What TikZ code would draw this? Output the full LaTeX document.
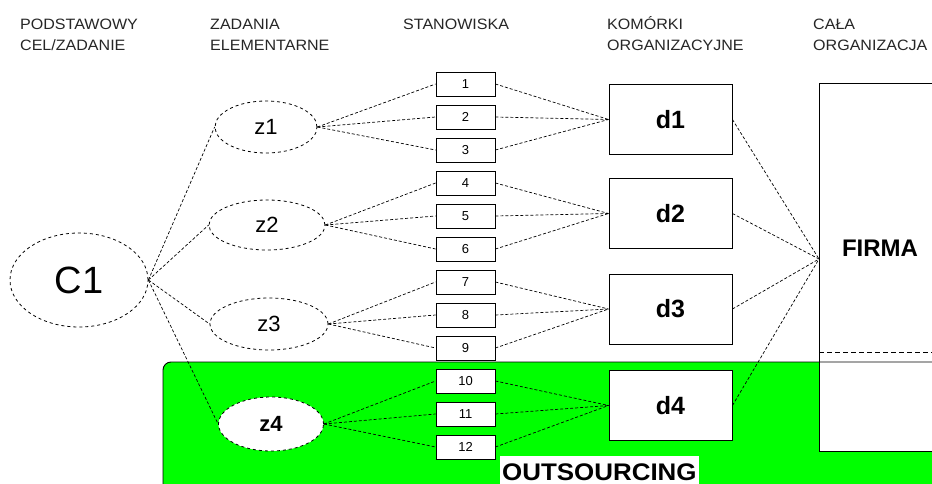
\documentclass[tikz,border=0pt]{standalone}
\usepackage{fontspec}
\setmainfont{Liberation Sans}
\newfontfamily\hdrfont[FakeStretch=1.07]{Liberation Sans}
\newfontfamily\outfont[FakeStretch=1.08]{Liberation Sans}
\usetikzlibrary{shapes.geometric}
\definecolor{outgreen}{RGB}{0,255,0}
\begin{document}
\begin{tikzpicture}[x=1pt,y=-1pt,
  hdr/.style={font=\hdrfont\fontsize{15}{18}\selectfont, anchor=base west, inner sep=0, text=black!85},
  task/.style={ellipse, draw, dashed, line width=0.8pt, inner sep=0, font=\fontsize{22}{22}\selectfont},
  post/.style={rectangle, draw, fill=white, line width=0.8pt, minimum width=59pt, minimum height=24pt, inner sep=0, font=\fontsize{13}{13}\selectfont},
  dept/.style={rectangle, draw, fill=white, line width=0.9pt, minimum width=123pt, minimum height=70pt, inner sep=0, font=\bfseries\fontsize{25}{25}\selectfont},
  conn/.style={line width=0.7pt, dash pattern=on 3pt off 2pt},
]
\useasboundingbox (0,0) rectangle (932,484);
\clip (0,0) rectangle (932,484);
\fill[white] (0,0) rectangle (932,484);
% outsourcing area
\fill[outgreen, rounded corners=8pt] (163,362) rectangle (960,510);
% whole organisation
\node[draw, fill=white, line width=0.9pt, minimum width=160pt, minimum height=368pt, anchor=north west, inner sep=0] (firma) at (819,83) {};
\node[font=\bfseries\fontsize{24}{24}\selectfont] (firmatxt) at (880,248) {FIRMA};
\draw[line width=0.9pt, rounded corners=8pt] (163,510) -- (163,362) -- (960,362);
\draw[line width=0.9pt, dash pattern=on 5pt off 3pt] (819,352) -- (960,352);
\coordinate (fin) at (819,259);
% headers
\node[hdr] (h1a) at (20,30) {PODSTAWOWY};
\node[hdr] (h1b) at (20,51) {CEL/ZADANIE};
\node[hdr] (h2a) at (210,30) {ZADANIA};
\node[hdr] (h2b) at (210,51) {ELEMENTARNE};
\node[hdr] (h3a) at (403,30) {STANOWISKA};
\node[hdr] (h4a) at (607,30) {KOMÓRKI};
\node[hdr] (h4b) at (607,51) {ORGANIZACYJNE};
\node[hdr] (h5a) at (813,30) {CAŁA};
\node[hdr] (h5b) at (813,51) {ORGANIZACJA};
% goal and tasks
\node[task, minimum width=138pt, minimum height=94pt, font=\fontsize{38}{38}\selectfont] (c1) at (79,280) {C1};
\node[task, minimum width=102pt, minimum height=52pt] (z1) at (266,127) {z1};
\node[task, minimum width=116pt, minimum height=50pt] (z2) at (267,225) {z2};
\node[task, minimum width=118pt, minimum height=52pt] (z3) at (269,324) {z3};
\node[task, fill=white, minimum width=105pt, minimum height=54pt, font=\bfseries\fontsize{22}{22}\selectfont] (z4) at (271,424) {z4};
% posts
\foreach \i in {1,...,12}
  \node[post] (s\i) at (465.5,{84+33*(\i-1)}) {\i};
% departments
\node[dept] (d1) at (670.5,119.5) {d1};
\node[dept] (d2) at (670.5,213.5) {d2};
\node[dept] (d3) at (670.5,309) {d3};
\node[dept] (d4) at (670.5,405.5) {d4};
% connectors
\foreach \z in {1,...,4}
  \draw[conn] (c1.east) -- (z\z.west);
\foreach \z/\a/\b/\c in {1/1/2/3, 2/4/5/6, 3/7/8/9, 4/10/11/12} {
  \foreach \s in {\a,\b,\c} {
    \draw[conn] (z\z.east) -- (s\s.west);
    \draw[conn] (s\s.east) -- (d\z.west);
  }
  \draw[conn] (d\z.east) -- (fin);
}
\node[fill=white, anchor=north west, inner xsep=2pt, inner ysep=0, minimum height=32pt, font=\outfont\bfseries\fontsize{24}{24}\selectfont] (outs) at (500,456) {OUTSOURCING};
\end{tikzpicture}
\end{document}
